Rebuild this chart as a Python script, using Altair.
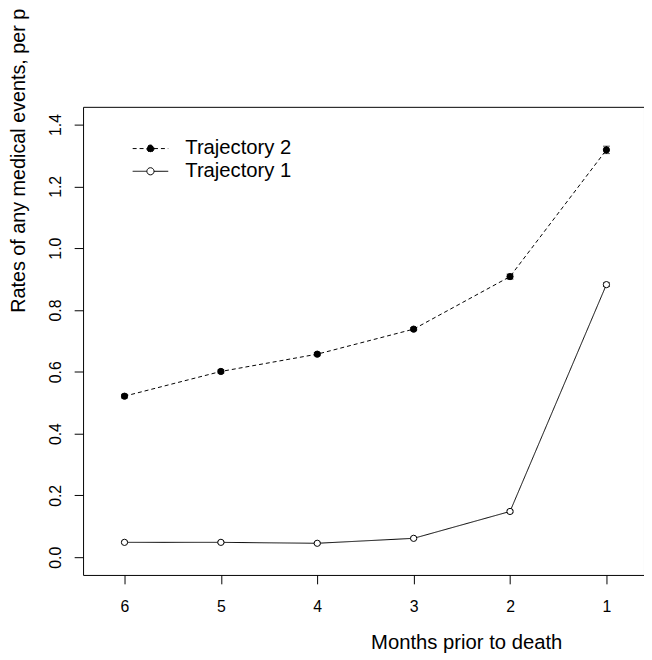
import altair as alt
import pandas as pd

# ---- data ----
months = [6, 5, 4, 3, 2, 1]
series_names = ["Trajectory 2", "Trajectory 1"]
traj2 = [0.521, 0.601, 0.657, 0.738, 0.908, 1.318]
traj1 = [0.048, 0.048, 0.045, 0.061, 0.148, 0.882]
traj2_err = [0.006, 0.005, 0.005, 0.005, 0.008, 0.012]
traj1_err = [0.003, 0.003, 0.003, 0.003, 0.004, 0.006]
y_ticks = [0.0, 0.2, 0.4, 0.6, 0.8, 1.0, 1.2, 1.4]
x_title = "Months prior to death"
y_title = "Rates of any medical events, per person-month"

rows = []
for name, vals, errs in [(series_names[0], traj2, traj2_err),
                         (series_names[1], traj1, traj1_err)]:
    for m, v, e in zip(months, vals, errs):
        rows.append({"month": m, "rate": v, "lo": v - e, "hi": v + e, "series": name})
df = pd.DataFrame(rows)

FONT = "Liberation Sans"

xscale = alt.Scale(domain=[0.610, 6.430], reverse=True, nice=False, zero=False)
yscale = alt.Scale(domain=[-0.0575, 1.4573], nice=False, zero=False)

x_axis = alt.Axis(values=months, format="d", title=x_title, grid=False, domain=False,
                  tickSize=9, tickColor="black", tickWidth=1,
                  labelFont=FONT, labelFontSize=16, labelColor="black", labelPadding=15,
                  labelFlush=False, labelOverlap=False,
                  titleFont=FONT, titleFontSize=20.5, titleFontWeight="normal", titleColor="black",
                  titleX=388, titleY=74, titleAlign="center", titleBaseline="alphabetic")
y_axis = alt.Axis(values=y_ticks, format=".1f", title=y_title, grid=False, domain=False,
                  tickSize=9, tickColor="black", tickWidth=1,
                  labelFont=FONT, labelFontSize=16, labelColor="black", labelPadding=14,
                  labelAngle=270, labelAlign="center", labelBaseline="alphabetic",
                  labelFlush=False, labelOverlap=False,
                  titleFont=FONT, titleFontSize=20, titleFontWeight="normal", titleColor="black",
                  titleAngle=270, titleAlign="left", titleBaseline="alphabetic",
                  titleX=-59, titleY=208)

SYM = "M-3,0L-0.6,0M0.6,0L3,0M0.6,0A0.6,0.6,0,1,1,-0.6,0A0.6,0.6,0,1,1,0.6,0Z"
legend = alt.Legend(title=None, orient="none", legendX=58, legendY=32, padding=0,
                    symbolType=SYM, symbolSize=144, symbolStrokeColor="black",
                    symbolStrokeWidth=1, labelFont=FONT, labelFontSize=20.5,
                    labelColor="black", labelOffset=25, rowPadding=2)

x = alt.X("month:Q", scale=xscale, axis=x_axis)
y = alt.Y("rate:Q", scale=yscale, axis=y_axis)

lines = alt.Chart(df).mark_line(color="black", strokeWidth=1).encode(
    x=x, y=y,
    strokeDash=alt.StrokeDash("series:N",
                              scale=alt.Scale(domain=series_names, range=[[4, 3], [1, 0]]),
                              legend=legend),
)

bars = alt.Chart(df).mark_rule(color="black", strokeWidth=1).encode(
    x=alt.X("month:Q", scale=xscale),
    y=alt.Y("lo:Q", scale=yscale),
    y2="hi:Q",
)
caps_lo = alt.Chart(df).mark_tick(color="black", orient="horizontal", size=7, thickness=1).encode(
    x=alt.X("month:Q", scale=xscale),
    y=alt.Y("lo:Q", scale=yscale),
)
caps_hi = alt.Chart(df).mark_tick(color="black", orient="horizontal", size=7, thickness=1).encode(
    x=alt.X("month:Q", scale=xscale),
    y=alt.Y("hi:Q", scale=yscale),
)

points = alt.Chart(df).mark_point(shape="circle", size=40, stroke="black", strokeWidth=1,
                                  opacity=1).encode(
    x=x, y=y,
    fill=alt.Fill("series:N", scale=alt.Scale(domain=series_names, range=["black", "white"]),
                  legend=legend),
)

chart = alt.layer(lines, bars, caps_lo, caps_hi, points).properties(
    width=568, height=474,
    padding={"left": 76, "top": 96, "right": 0, "bottom": 80},
    autosize=alt.AutoSizeParams(type="none"),
    background="white",
).configure_view(stroke="black", strokeWidth=1).configure_axis(labelFont=FONT, titleFont=FONT)

chart.save("out.html", embed_options={"renderer": "svg", "actions": False})
